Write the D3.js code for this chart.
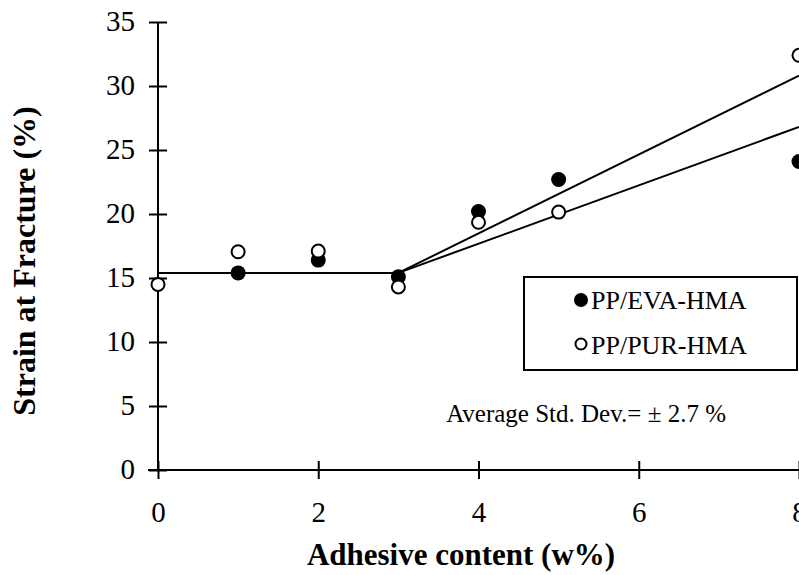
<!DOCTYPE html>
<html>
<head>
<meta charset="utf-8">
<script src="https://cdn.jsdelivr.net/npm/d3@7"></script>
<style>
    body { margin: 0; background: #fff; }
    text { font-family: "Liberation Serif", "Times New Roman", serif; fill: #000; }
</style>
</head>
<body>
<div class="chart"></div>
<script>

var xValues = [0, 1, 2, 3, 4, 5, 8];
var evaValues = [null, 15.4, 16.4, 15.1, 20.2, 22.7, 24.1];
var purValues = [14.5, 17.05, 17.1, 14.3, 19.35, 20.15, 32.4];

var baseFitX = [0, 3];
var baseFitY = [15.4, 15.4];
var evaFitX = [3, 8];
var evaFitY = [15.4, 26.8];
var purFitX = [3, 8];
var purFitY = [15.4, 30.8];

var xTicks = [0, 2, 4, 6, 8];
var yTicks = [0, 5, 10, 15, 20, 25, 30, 35];
var seriesNames = ["PP/EVA-HMA", "PP/PUR-HMA"];
var noteText = "Average Std. Dev.= \u00b1 2.7 %";

var svgWidth = 799;
var svgHeight = 575;

var svg = d3.select(".chart")
    .append("svg")
    .attr("width", svgWidth)
    .attr("height", svgHeight);

var xScale = d3.scaleLinear().domain([0, 8]).range([158, 799]);
var yScale = d3.scaleLinear().domain([0, 35]).range([470, 22]);

// axes
var bottomAxis = d3.axisBottom(xScale).tickValues(xTicks).tickSizeOuter(0).tickFormat(d3.format("d"));
var leftAxis = d3.axisLeft(yScale).tickValues(yTicks).tickSizeOuter(0).tickFormat(d3.format("d"));

var xAxisG = svg.append("g")
    .attr("transform", `translate(0, ${yScale(0)})`)
    .call(bottomAxis);

var yAxisG = svg.append("g")
    .attr("transform", `translate(${xScale(0)}, 0)`)
    .call(leftAxis);

xAxisG.select(".domain").attr("d", `M${xScale(0) - 10},0H${xScale(8)}`);
yAxisG.select(".domain").attr("d", `M0,${yScale(0)}V${yScale(35)}`);

[xAxisG, yAxisG].forEach(function (g) {
    g.select(".domain").attr("stroke", "#000").attr("stroke-width", 2);
    g.selectAll(".tick line").attr("stroke", "#000").attr("stroke-width", 2);
    g.selectAll(".tick text")
        .attr("font-family", "Liberation Serif, Times New Roman, serif")
        .attr("font-size", 29)
        .attr("fill", "#000");
});

xAxisG.selectAll(".tick line").attr("y1", -9).attr("y2", 9);
xAxisG.selectAll(".tick text").attr("y", 52).attr("dy", 0);

yAxisG.selectAll(".tick line").attr("x1", -9).attr("x2", 9);
yAxisG.selectAll(".tick text").attr("x", -23).attr("dy", 0).attr("y", 8);

// fit lines
var line = d3.line()
    .x(d => xScale(d[0]))
    .y(d => yScale(d[1]));

[[baseFitX, baseFitY], [evaFitX, evaFitY], [purFitX, purFitY]].forEach(function (f) {
    svg.append("path")
        .datum(d3.zip(f[0], f[1]))
        .attr("d", line)
        .attr("fill", "none")
        .attr("stroke", "#000")
        .attr("stroke-width", 2);
});

// points
var evaPoints = d3.zip(xValues, evaValues).filter(d => d[1] !== null);
var purPoints = d3.zip(xValues, purValues);

svg.append("g").selectAll("circle")
    .data(evaPoints)
    .enter()
    .append("circle")
    .attr("cx", d => xScale(d[0]))
    .attr("cy", d => yScale(d[1]))
    .attr("r", 7.5)
    .attr("fill", "#000");

svg.append("g").selectAll("circle")
    .data(purPoints)
    .enter()
    .append("circle")
    .attr("cx", d => xScale(d[0]))
    .attr("cy", d => yScale(d[1]))
    .attr("r", 6.5)
    .attr("fill", "#fff")
    .attr("stroke", "#000")
    .attr("stroke-width", 2);

// legend
var legend = svg.append("g");
legend.append("rect")
    .attr("x", 524)
    .attr("y", 277)
    .attr("width", 273)
    .attr("height", 93)
    .attr("fill", "#fff")
    .attr("stroke", "#000")
    .attr("stroke-width", 2);

legend.append("circle").attr("cx", 581).attr("cy", 300).attr("r", 7).attr("fill", "#000");
legend.append("circle").attr("cx", 581).attr("cy", 344).attr("r", 5.5).attr("fill", "#fff")
    .attr("stroke", "#000").attr("stroke-width", 2);

legend.selectAll("text.item")
    .data(seriesNames)
    .enter()
    .append("text")
    .attr("class", "item")
    .attr("x", 591)
    .attr("y", (d, i) => 309 + i * 45)
    .attr("font-size", 26)
    .text(d => d);

// note under the legend
svg.append("text")
    .attr("x", 726)
    .attr("y", 422)
    .attr("text-anchor", "end")
    .attr("font-size", 25)
    .text(noteText);

// axis labels
svg.append("text")
    .attr("x", 461)
    .attr("y", 565)
    .attr("text-anchor", "middle")
    .attr("font-weight", "bold")
    .attr("font-size", 31)
    .text("Adhesive content (w%)");

svg.append("text")
    .attr("transform", "translate(35, 261) rotate(-90)")
    .attr("text-anchor", "middle")
    .attr("font-weight", "bold")
    .attr("font-size", 32)
    .text("Strain at Fracture (%)");

</script>
</body>
</html>
